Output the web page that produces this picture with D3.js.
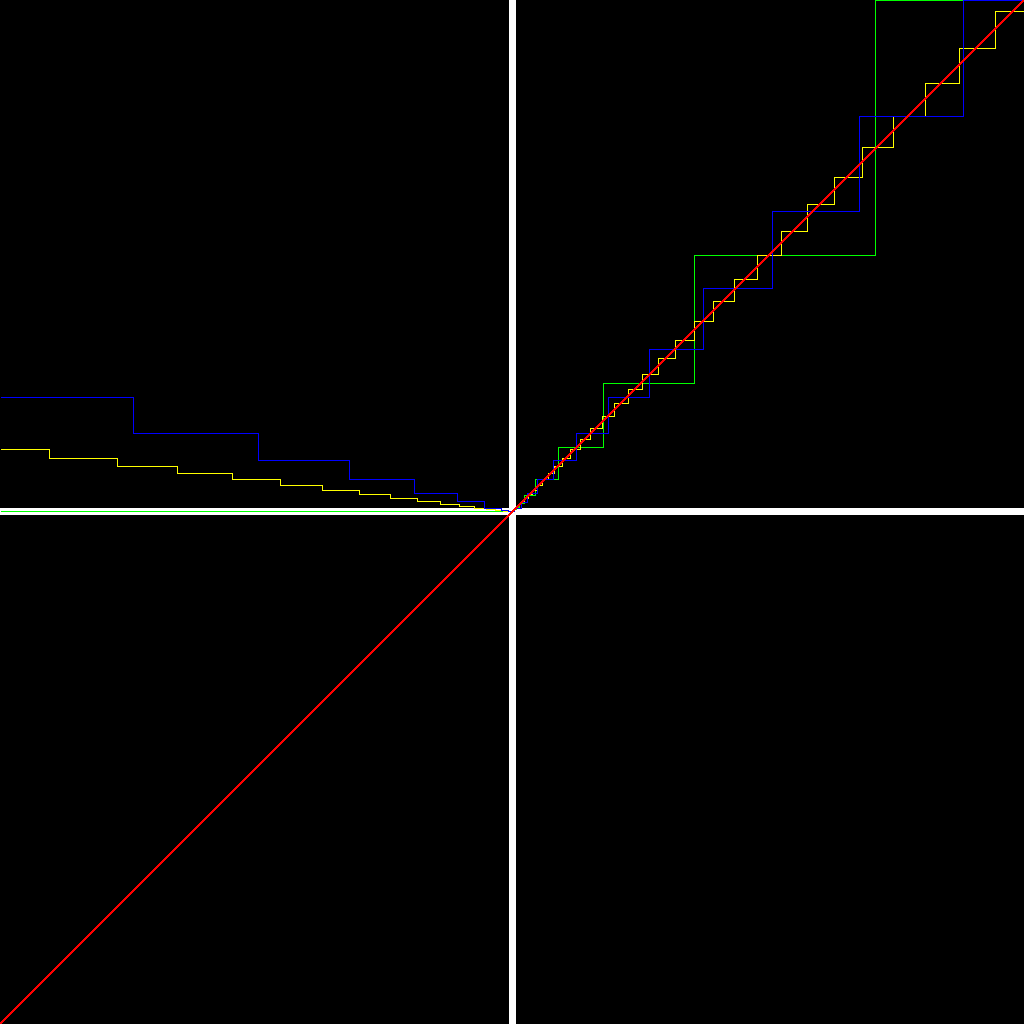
<!DOCTYPE html>
<html>
<head>
<meta charset="utf-8">
<script src="https://cdn.jsdelivr.net/npm/d3@7"></script>
<style>
  html, body { margin: 0; padding: 0; background: #000; }
  svg { display: block; }
</style>
</head>
<body>
<svg id="chart"></svg>
<script>
// step points (x where the step starts, value after it)
const greenX = [-512, 2, 3.8, 6.5, 12.3, 23.3, 46.3, 91.3, 182.3, 363.3, 512];
const greenY = [0, 2, 4, 8, 16, 32, 64, 128, 256, 511, 511];

const yellowX = [-512, -463, -395, -335, -280, -232, -190, -153, -122, -95, -72, -53, -38, -26, -17, -9, -4,
  0.8, 1.8, 3, 4.2, 6, 8.5, 11.5, 15.5, 20, 25, 30, 36, 42, 50, 58, 68, 78, 90, 102, 116, 130, 146, 163,
  182, 201, 222, 245, 269, 295, 322, 350, 381, 413, 447, 483, 512];
const yellowY = [62, 53, 45, 38, 32, 26, 21, 17, 13, 10, 7, 5, 3.5, 2, 1, 0.5, 0,
  1, 2, 3.5, 5, 7, 10, 13, 17, 21, 26, 32, 38, 45, 53, 62, 72, 83, 95, 108, 122, 137, 153, 171,
  190, 210, 232, 256, 280, 307, 334, 364, 395, 428, 463, 500, 500];

const blueX = [-512, -378.7, -253.7, -162.7, -97.7, -54.7, -27.7, -11.3, -3.7,
  1.5, 8.7, 15, 25.3, 41.3, 64.3, 95.7, 137.3, 191.3, 260.3, 346.7, 451.3, 512];
const blueY = [114, 78, 51, 32, 18, 10, 3.5, 1, 0,
  3.5, 9.5, 18, 32, 51, 78, 114, 162, 223, 300, 395, 511, 511];

// reference y = x
const redX = [-512, 512];
const redY = [-512, 512];

const width = 1024;
const height = 1024;

const xScale = d3.scaleLinear()
  .domain([-512, 512])
  .range([0.5, 1024.5]);

const yScale = d3.scaleLinear()
  .domain([-512, 512])
  .range([1023.5, -0.5]);

const svg = d3.select('#chart')
  .attr('width', width)
  .attr('height', height);

svg.append('rect')
  .attr('width', width)
  .attr('height', height)
  .attr('fill', '#000');

// thick white axes through the origin
svg.append('line')
  .attr('x1', 0).attr('x2', width)
  .attr('y1', yScale(0)).attr('y2', yScale(0))
  .attr('stroke', '#fff')
  .attr('stroke-width', 7)
  .attr('shape-rendering', 'crispEdges');

svg.append('line')
  .attr('x1', xScale(0)).attr('x2', xScale(0))
  .attr('y1', 0).attr('y2', height)
  .attr('stroke', '#fff')
  .attr('stroke-width', 7)
  .attr('shape-rendering', 'crispEdges');

const stepLine = d3.line()
  .x(d => xScale(d[0]))
  .y(d => yScale(d[1]))
  .curve(d3.curveStepAfter);

const series = [
  { xs: greenX, ys: greenY, color: '#00ff00' },
  { xs: yellowX, ys: yellowY, color: '#ffff00' },
  { xs: blueX, ys: blueY, color: '#0000ff' }
];

series.forEach(s => {
  svg.append('path')
    .datum(d3.zip(s.xs, s.ys))
    .attr('fill', 'none')
    .attr('stroke', s.color)
    .attr('stroke-width', 1)
    .attr('shape-rendering', 'crispEdges')
    .attr('d', stepLine);
});

svg.append('path')
  .datum(d3.zip(redX, redY))
  .attr('fill', 'none')
  .attr('stroke', '#ff0000')
  .attr('stroke-width', 1.42)
  .attr('shape-rendering', 'crispEdges')
  .attr('d', d3.line().x(d => xScale(d[0])).y(d => yScale(d[1])));
</script>
</body>
</html>
